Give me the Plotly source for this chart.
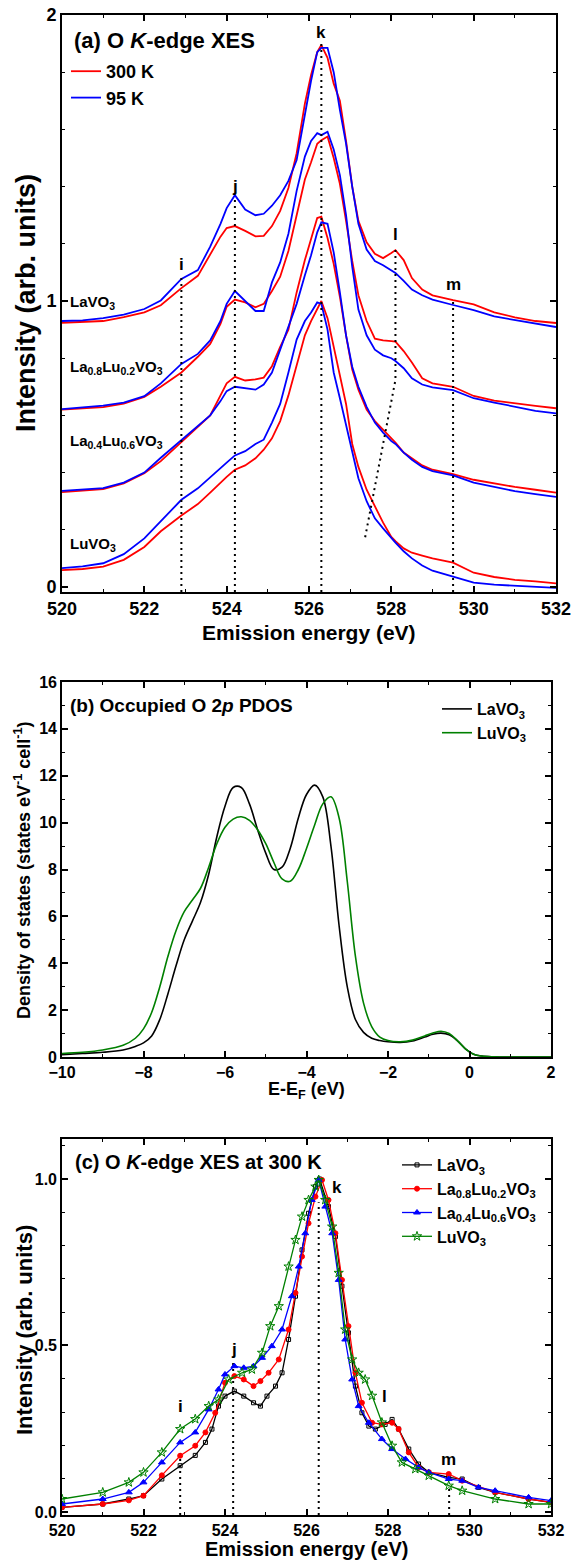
import plotly.graph_objects as go

W, H = 581, 1560
FONT = "Liberation Sans, Arial, sans-serif"


def px(x):
    return x / W


def py(y):
    return 1 - y / H


# ---------------- Panel (a): O K-edge XES, 300 K (red) and 95 K (blue) ----------------
E_A = [520.0, 520.5, 521.0, 521.5, 522.0, 522.4, 522.9, 523.3, 523.6, 523.85, 524.0, 524.2,
       524.45, 524.7, 524.9, 525.1, 525.3, 525.5, 525.7, 525.9, 526.05, 526.2, 526.3, 526.45,
       526.6, 526.75, 526.9, 527.05, 527.2, 527.4, 527.6, 527.8, 528.0, 528.1, 528.3, 528.5,
       528.75, 529.0, 529.5, 530.0, 530.5, 531.0, 531.5, 532.0]

LA_300 = [0.924, 0.926, 0.930, 0.944, 0.960, 0.985, 1.045, 1.088, 1.160, 1.225, 1.255, 1.262,
          1.245, 1.226, 1.228, 1.262, 1.315, 1.395, 1.517, 1.690, 1.790, 1.870, 1.895, 1.850,
          1.760, 1.700, 1.560, 1.400, 1.280, 1.205, 1.165, 1.150, 1.168, 1.178, 1.143, 1.080,
          1.040, 1.020, 1.003, 0.988, 0.960, 0.943, 0.930, 0.923]
LA_95 = [0.930, 0.932, 0.940, 0.952, 0.972, 1.002, 1.077, 1.108, 1.190, 1.270, 1.325, 1.370,
         1.320, 1.300, 1.305, 1.333, 1.370, 1.420, 1.493, 1.660, 1.770, 1.870, 1.885, 1.885,
         1.800, 1.668, 1.550, 1.400, 1.270, 1.180, 1.140, 1.125, 1.108, 1.098, 1.070, 1.040,
         1.020, 1.005, 0.986, 0.968, 0.946, 0.934, 0.920, 0.909]

L8_300 = [0.620, 0.625, 0.629, 0.641, 0.665, 0.700, 0.750, 0.805, 0.850, 0.920, 0.980, 1.005,
          0.995, 0.978, 0.990, 1.035, 1.085, 1.175, 1.300, 1.425, 1.485, 1.550, 1.562, 1.575,
          1.500, 1.410, 1.280, 1.140, 1.020, 0.930, 0.868, 0.862, 0.860, 0.858, 0.825, 0.785,
          0.730, 0.712, 0.700, 0.668, 0.652, 0.642, 0.633, 0.625]
L8_95 = [0.622, 0.628, 0.634, 0.645, 0.667, 0.712, 0.780, 0.815, 0.862, 0.930, 0.990, 1.035,
         1.000, 0.965, 0.965, 1.065, 1.135, 1.235, 1.385, 1.505, 1.560, 1.587, 1.580, 1.592,
         1.530, 1.440, 1.300, 1.120, 0.970, 0.880, 0.830, 0.810, 0.800, 0.790, 0.765, 0.730,
         0.708, 0.698, 0.688, 0.660, 0.645, 0.630, 0.616, 0.607]

L4_300 = [0.332, 0.338, 0.342, 0.362, 0.398, 0.440, 0.508, 0.560, 0.600, 0.670, 0.712, 0.735,
          0.722, 0.726, 0.732, 0.772, 0.840, 0.900, 1.030, 1.143, 1.220, 1.290, 1.295, 1.220,
          1.130, 1.015, 0.880, 0.760, 0.690, 0.620, 0.580, 0.550, 0.520, 0.505, 0.470, 0.450,
          0.425, 0.410, 0.395, 0.375, 0.362, 0.350, 0.340, 0.330]
L4_95 = [0.336, 0.342, 0.346, 0.365, 0.400, 0.452, 0.514, 0.566, 0.600, 0.650, 0.685, 0.700,
         0.694, 0.690, 0.708, 0.750, 0.830, 0.910, 0.990, 1.090, 1.160, 1.240, 1.275, 1.270,
         1.170, 1.030, 0.880, 0.770, 0.700, 0.630, 0.575, 0.540, 0.510, 0.500, 0.470, 0.445,
         0.420, 0.405, 0.390, 0.365, 0.350, 0.335, 0.325, 0.315]

LU_300 = [0.059, 0.063, 0.071, 0.095, 0.140, 0.195, 0.250, 0.290, 0.330, 0.365, 0.385, 0.410,
          0.425, 0.450, 0.480, 0.520, 0.580, 0.670, 0.780, 0.880, 0.930, 0.975, 1.000, 0.940,
          0.840, 0.730, 0.640, 0.500, 0.420, 0.340, 0.280, 0.225, 0.175, 0.160, 0.135, 0.120,
          0.110, 0.100, 0.085, 0.050, 0.035, 0.025, 0.020, 0.013]
LU_95 = [0.066, 0.072, 0.083, 0.115, 0.170, 0.230, 0.305, 0.345, 0.385, 0.415, 0.435, 0.460,
         0.475, 0.500, 0.515, 0.575, 0.640, 0.750, 0.865, 0.930, 0.960, 0.995, 0.990, 0.900,
         0.750, 0.660, 0.570, 0.480, 0.380, 0.300, 0.240, 0.205, 0.170, 0.155, 0.125, 0.100,
         0.075, 0.057, 0.036, 0.015, 0.008, 0.004, 0.000, -0.003]

SAMPLE_LABELS = ["LaVO<sub>3</sub>", "La<sub>0.8</sub>Lu<sub>0.2</sub>VO<sub>3</sub>",
                 "La<sub>0.4</sub>Lu<sub>0.6</sub>VO<sub>3</sub>", "LuVO<sub>3</sub>"]
SAMPLE_LABEL_Y = [0.995, 0.766, 0.508, 0.147]

PEAKS = ["i", "j", "k", "l", "m"]
PEAK_E_A = [522.9, 524.2, 526.3, 528.1, 529.5]
PEAK_TOP_A = [1.09, 1.364, 1.905, 1.178, 1.01]
PEAK_LABEL_Y_A = [1.126, 1.399, 1.938, 1.231, 1.056]
L_BEND_A = [0.724]            # where the l-marker leaves the vertical
L_END_A = [527.36, 0.171]     # lower end of the slanted l-marker

# ---------------- Panel (b): occupied O 2p PDOS ----------------
E_B = [-10, -9.5, -9, -8.5, -8.2, -8, -7.8, -7.6, -7.4, -7.2, -7.0, -6.8, -6.6, -6.4, -6.2,
       -6.0, -5.8, -5.6, -5.4, -5.2, -5.0, -4.8, -4.6, -4.4, -4.2, -4.0, -3.8, -3.6, -3.4,
       -3.2, -3.0, -2.8, -2.6, -2.4, -2.2, -2.0, -1.7, -1.4, -1.1, -0.9, -0.7, -0.5, -0.3,
       -0.1, 0.1, 0.3, 0.6, 1.0, 1.5, 2.0]
DOS_LA = [0.10, 0.15, 0.20, 0.30, 0.45, 0.60, 0.90, 1.60, 2.70, 3.90, 5.00, 5.80, 6.60, 7.80,
          9.40, 10.70, 11.50, 11.50, 10.80, 9.70, 8.70, 8.00, 8.10, 8.90, 10.20, 11.20, 11.60,
          11.10, 9.00, 5.60, 3.00, 1.60, 1.05, 0.80, 0.70, 0.65, 0.62, 0.68, 0.85, 0.97, 1.02,
          0.95, 0.70, 0.35, 0.12, 0.04, 0.01, 0.00, 0.00, 0.00]
DOS_LU = [0.15, 0.20, 0.30, 0.50, 0.80, 1.20, 1.90, 3.00, 4.30, 5.40, 6.20, 6.70, 7.20, 8.10,
          9.10, 9.80, 10.15, 10.25, 10.10, 9.70, 9.10, 8.30, 7.60, 7.50, 8.00, 8.90, 9.90,
          10.80, 11.10, 10.20, 7.50, 4.30, 2.30, 1.30, 0.85, 0.70, 0.65, 0.72, 0.90, 1.02, 1.10,
          1.00, 0.70, 0.35, 0.12, 0.04, 0.01, 0.00, 0.00, 0.00]

# ---------------- Panel (c): O K-edge XES at 300 K (normalised) ----------------
E_C_LA = [520.0, 521.0, 521.64, 522.0, 522.45, 522.9, 523.27, 523.52, 523.68, 523.84, 524.0,
          524.23, 524.46, 524.7, 524.87, 525.03, 525.24, 525.4, 525.56, 525.73, 525.89, 526.05,
          526.22, 526.32, 526.54, 526.71, 526.87, 527.03, 527.2, 527.36, 527.53, 527.69, 527.93,
          528.1, 528.26, 528.51, 528.75, 529.0, 529.49, 529.82, 530.22, 530.63, 531.45, 532.0]
C_LA = [0.014, 0.024, 0.039, 0.049, 0.099, 0.139, 0.170, 0.209, 0.249, 0.318, 0.348, 0.363,
        0.348, 0.328, 0.318, 0.348, 0.378, 0.418, 0.518, 0.648, 0.787, 0.897, 0.977, 1.000,
        0.917, 0.827, 0.678, 0.538, 0.378, 0.298, 0.258, 0.249, 0.263, 0.278, 0.249, 0.189,
        0.144, 0.119, 0.104, 0.099, 0.074, 0.059, 0.039, 0.029]

E_C_L8 = [520.0, 521.0, 521.64, 522.0, 522.45, 522.9, 523.27, 523.52, 523.76, 524.0, 524.23,
          524.46, 524.7, 524.87, 525.07, 525.32, 525.56, 525.73, 525.89, 526.05, 526.22, 526.38,
          526.54, 526.71, 526.87, 527.03, 527.2, 527.36, 527.61, 527.85, 528.1, 528.26, 528.51,
          528.75, 529.0, 529.49, 529.82, 530.63, 531.45, 532.0]
C_L8 = [0.014, 0.024, 0.035, 0.049, 0.110, 0.169, 0.199, 0.239, 0.298, 0.388, 0.408, 0.398,
        0.378, 0.393, 0.418, 0.458, 0.548, 0.658, 0.767, 0.867, 0.947, 0.997, 0.937, 0.837,
        0.697, 0.558, 0.418, 0.328, 0.268, 0.263, 0.268, 0.249, 0.179, 0.134, 0.119, 0.114,
        0.094, 0.059, 0.039, 0.029]

E_C_L4 = [520.0, 521.0, 521.64, 522.0, 522.45, 522.9, 523.27, 523.6, 523.84, 524.0, 524.23,
          524.46, 524.7, 524.91, 525.15, 525.4, 525.64, 525.81, 525.97, 526.13, 526.3, 526.46,
          526.63, 526.79, 526.95, 527.12, 527.28, 527.53, 527.85, 528.1, 528.43, 528.75, 529.0,
          529.49, 529.82, 530.22, 530.63, 531.45, 532.0]
C_L4 = [0.024, 0.039, 0.059, 0.089, 0.149, 0.209, 0.239, 0.308, 0.368, 0.413, 0.438, 0.433,
        0.438, 0.463, 0.498, 0.548, 0.648, 0.737, 0.837, 0.937, 0.997, 0.917, 0.837, 0.697,
        0.518, 0.398, 0.318, 0.268, 0.219, 0.189, 0.159, 0.134, 0.119, 0.099, 0.094, 0.074,
        0.064, 0.044, 0.034]

E_C_LU = [520.0, 521.0, 521.64, 522.0, 522.45, 522.9, 523.27, 523.6, 523.84, 524.09, 524.42,
          524.66, 524.91, 525.11, 525.32, 525.56, 525.73, 525.89, 526.05, 526.22, 526.3, 526.46,
          526.63, 526.79, 526.95, 527.12, 527.28, 527.44, 527.61, 527.85, 528.1, 528.34, 528.67,
          529.0, 529.49, 529.82, 530.63, 531.45, 532.0]
C_LU = [0.039, 0.059, 0.089, 0.119, 0.179, 0.249, 0.279, 0.318, 0.338, 0.398, 0.418, 0.428,
        0.478, 0.558, 0.618, 0.737, 0.817, 0.887, 0.937, 0.977, 0.997, 0.937, 0.857, 0.718,
        0.548, 0.458, 0.418, 0.398, 0.349, 0.269, 0.199, 0.149, 0.129, 0.109, 0.079, 0.064,
        0.039, 0.024, 0.024]

PEAK_E_C = [522.9, 524.2, 526.3, 529.5]
PEAK_TOP_C = [0.18, 0.45, 0.93, 0.078]
PEAK_LABEL_C = ["i", "j", "k", "l", "m"]
PEAK_LABEL_E_C = [522.9, 524.23, 526.75, 527.92, 529.49]
PEAK_LABEL_Y_C = [0.318, 0.488, 0.973, 0.347, 0.157]

YR_A = [-0.0175, 2.0]
YR_B = [0, 16]
YR_C = [-0.009, 1.12]

RED, BLUE, GREEN = "#ff0000", "#0000ff", "#008000"
DOTS = "2px,4px"

fig = go.Figure()

# panel (a) curves
groups_a = [(LA_300, LA_95), (L8_300, L8_95), (L4_300, L4_95), (LU_300, LU_95)]
for gi, (r, b) in enumerate(groups_a):
    fig.add_trace(go.Scatter(x=E_A, y=r, mode="lines", line=dict(color=RED, width=1.8),
                             name="300 K", legend="legend", showlegend=(gi == 0),
                             xaxis="x", yaxis="y"))
    fig.add_trace(go.Scatter(x=E_A, y=b, mode="lines", line=dict(color=BLUE, width=1.8),
                             name="95 K", legend="legend", showlegend=(gi == 0),
                             xaxis="x", yaxis="y"))

# panel (a) dotted peak markers
for e, top, name in zip(PEAK_E_A, PEAK_TOP_A, PEAKS):
    if name == "l":
        xs = [e, e, L_END_A[0]]
        ys = [top, L_BEND_A[0], L_END_A[1]]
    else:
        xs = [e, e]
        ys = [YR_A[0], top]
    fig.add_trace(go.Scatter(x=xs, y=ys, mode="lines", showlegend=False, hoverinfo="skip",
                             line=dict(color="black", width=2, dash=DOTS), xaxis="x", yaxis="y"))

# panel (b) curves
fig.add_trace(go.Scatter(x=E_B, y=DOS_LA, mode="lines", line=dict(color="black", width=1.6, shape="spline"),
                         name="LaVO<sub>3</sub>", legend="legend2", xaxis="x2", yaxis="y2"))
fig.add_trace(go.Scatter(x=E_B, y=DOS_LU, mode="lines", line=dict(color=GREEN, width=1.6, shape="spline"),
                         name="LuVO<sub>3</sub>", legend="legend2", xaxis="x2", yaxis="y2"))

# panel (c) dotted markers first (behind data)
for e, top in zip(PEAK_E_C, PEAK_TOP_C):
    fig.add_trace(go.Scatter(x=[e, e], y=[YR_C[0], top], mode="lines", showlegend=False,
                             hoverinfo="skip", line=dict(color="black", width=2, dash=DOTS),
                             xaxis="x3", yaxis="y3"))

series_c = [
    (E_C_LA, C_LA, "black", "square-open", 4, SAMPLE_LABELS[0]),
    (E_C_L8, C_L8, RED, "circle", 5, SAMPLE_LABELS[1]),
    (E_C_L4, C_L4, BLUE, "triangle-up", 6, SAMPLE_LABELS[2]),
    (E_C_LU, C_LU, GREEN, "star-open", 7, SAMPLE_LABELS[3]),
]
for xs, ys, col, sym, sz, nm in series_c:
    fig.add_trace(go.Scatter(x=xs, y=ys, mode="lines+markers", name=nm, legend="legend3",
                             line=dict(color=col, width=1.3),
                             marker=dict(symbol=sym, size=sz, color=col, line=dict(color=col, width=1)),
                             xaxis="x3", yaxis="y3"))

tick_font = dict(family=FONT, size=17, color="black", weight="bold")


def axis(domain, rng, dtick, minor_dtick, anchor, tickfont=None, tickformat=None):
    d = dict(domain=domain, range=rng, dtick=dtick, tick0=0, anchor=anchor,
             showline=True, linecolor="black", linewidth=1.6, mirror="ticks",
             ticks="inside", ticklen=6, tickwidth=1.5, tickcolor="black",
             showgrid=False, zeroline=False, automargin=False,
             tickfont=tickfont or tick_font,
             minor=dict(dtick=minor_dtick, tick0=0, ticks="inside", ticklen=3.5, tickwidth=1.3,
                        tickcolor="black", showgrid=False))
    if tickformat:
        d["tickformat"] = tickformat
    return d


XA_DOM = [px(62), px(556)]
XB_DOM = [px(62), px(551)]
XC_DOM = [px(62), px(551)]
YA_DOM = [py(592), py(15)]
YB_DOM = [py(1057), py(682)]
YC_DOM = [py(1515), py(1139)]

small_tick = dict(family=FONT, size=16, color="black", weight="bold")

layout = dict(
    width=W, height=H, margin=dict(l=0, r=0, t=0, b=0),
    paper_bgcolor="white", plot_bgcolor="white",
    font=dict(family=FONT, color="black", weight="bold"),
    xaxis=axis(XA_DOM, [520, 532], 2, 1, "y", dict(family=FONT, size=18, color="black", weight="bold")),
    yaxis=axis(YA_DOM, YR_A, 1, 0.2, "x", dict(family=FONT, size=18, color="black", weight="bold")),
    xaxis2=axis(XB_DOM, [-10, 2], 2, 1, "y2", small_tick),
    yaxis2=axis(YB_DOM, YR_B, 2, 1, "x2", small_tick),
    xaxis3=axis(XC_DOM, [520, 532], 2, 1, "y3", small_tick),
    yaxis3=axis(YC_DOM, YR_C, 0.5, 0.1, "x3", small_tick, ".1f"),
    legend=dict(x=px(66), y=py(53), xanchor="left", yanchor="top", bgcolor="rgba(0,0,0,0)",
                font=dict(family=FONT, size=18, color="black", weight="bold"), tracegroupgap=0,
                itemwidth=30),
    legend2=dict(x=px(437), y=py(692), xanchor="left", yanchor="top", bgcolor="rgba(0,0,0,0)",
                 font=dict(family=FONT, size=16, color="black", weight="bold"), tracegroupgap=0,
                 itemwidth=30),
    legend3=dict(x=px(397), y=py(1148), xanchor="left", yanchor="top", bgcolor="rgba(0,0,0,0)",
                 font=dict(family=FONT, size=16, color="black", weight="bold"), tracegroupgap=0,
                 itemwidth=30),
    showlegend=True,
)

ann = []


def text(x, y, t, size, xref="paper", yref="paper", xanchor="center", yanchor="middle", angle=0):
    ann.append(dict(x=x, y=y, xref=xref, yref=yref, text=t, showarrow=False, xanchor=xanchor,
                    yanchor=yanchor, textangle=angle,
                    font=dict(family=FONT, size=size, color="black", weight="bold")))


# panel titles
text(px(72), py(40), "(a) O <i>K</i>-edge XES", 22, xanchor="left")
text(px(68), py(706), "(b) Occupied O 2<i>p</i> PDOS", 19, xanchor="left")
text(px(73), py(1162), "(c) O <i>K</i>-edge XES at 300 K", 20, xanchor="left")

# axis titles
text(px(309), py(632), "Emission energy (eV)", 21)
text(px(26), py(303), "Intensity (arb. units)", 27, angle=-90)
text(px(306), py(1090), "E-E<sub>F</sub> (eV)", 18)
text(px(22), py(870), "Density of states (states eV<sup>-1</sup> cell<sup>-1</sup>)", 18, angle=-90)
text(px(306), py(1549), "Emission energy (eV)", 20)
text(px(24), py(1330), "Intensity (arb. units)", 22, angle=-90)

# sample labels in panel (a)
for lab, yv in zip(SAMPLE_LABELS, SAMPLE_LABEL_Y):
    text(520.15, yv, lab, 15, xref="x", yref="y", xanchor="left")

# peak labels panel (a)
for name, e, yv in zip(PEAKS, PEAK_E_A, PEAK_LABEL_Y_A):
    text(e, yv, name, 17, xref="x", yref="y")

# peak labels panel (c)
for name, e, yv in zip(PEAK_LABEL_C, PEAK_LABEL_E_C, PEAK_LABEL_Y_C):
    text(e, yv, name, 17, xref="x3", yref="y3")

layout["annotations"] = ann
fig.update_layout(**layout)

fig.write_html("out.html")
